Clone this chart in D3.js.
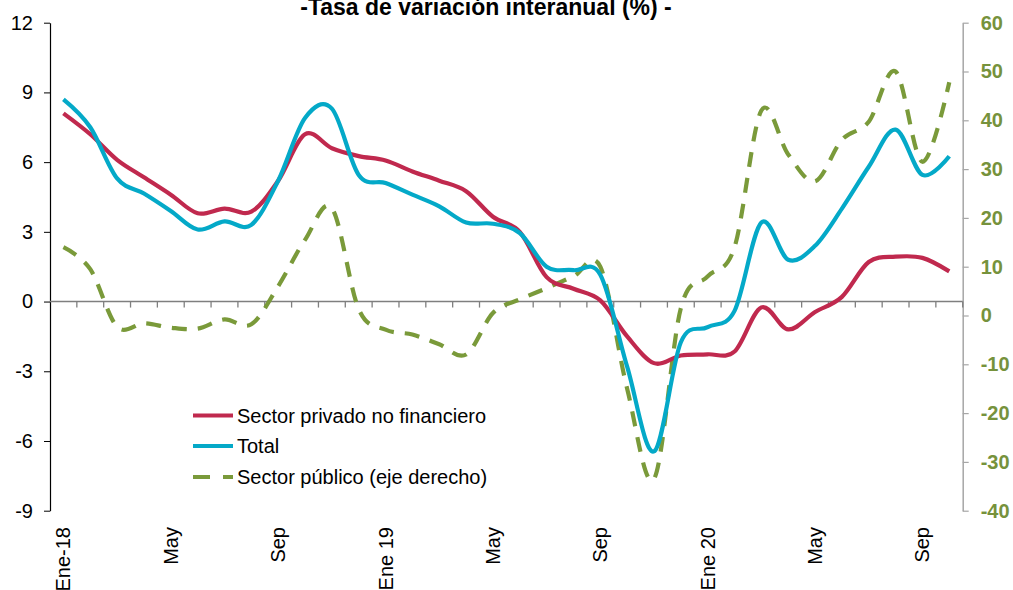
<!DOCTYPE html>
<html>
<head>
<meta charset="utf-8">
<script src="https://cdn.jsdelivr.net/npm/d3@7"></script>
<style>
  html, body { margin: 0; padding: 0; background: #fff; }
  svg { display: block; font-family: Arial, "Liberation Sans", sans-serif; }
</style>
</head>
<body>
<svg id="chart" width="1013" height="590"></svg>
<script>
// ---- data ----
const months = [
  "Ene-18","Feb-18","Mar-18","Abr-18","May-18","Jun-18","Jul-18","Ago-18","Sep-18","Oct-18","Nov-18","Dic-18",
  "Ene-19","Feb-19","Mar-19","Abr-19","May-19","Jun-19","Jul-19","Ago-19","Sep-19","Oct-19","Nov-19","Dic-19",
  "Ene-20","Feb-20","Mar-20","Abr-20","May-20","Jun-20","Jul-20","Ago-20","Sep-20","Oct-20"
];
const tickMonths = ["Ene-18","May-18","Sep-18","Ene-19","May-19","Sep-19","Ene-20","May-20","Sep-20"];
const tickLabels = ["Ene-18","May","Sep","Ene 19","May","Sep","Ene 20","May","Sep"];
const privado = [8.1, 7.2, 6.1, 5.35, 4.6, 3.8, 4.0, 3.87, 5.2, 7.2, 6.6, 6.26, 6.07,
  5.6, 5.2, 4.75, 3.65, 3.0, 1.05, 0.55, 0.05, -1.5, -2.65, -2.32, -2.27, -2.15,
  -0.25, -1.2, -0.45, 0.2, 1.7, 1.93, 1.88, 1.3];
const total = [8.7, 7.5, 5.3, 4.65, 3.9, 3.1, 3.45, 3.3, 5.2, 7.9, 8.3, 5.45, 5.1,
  4.6, 4.1, 3.4, 3.35, 2.95, 1.5, 1.35, 1.15, -2.8, -6.45, -1.75, -1.1, -0.4,
  3.4, 1.8, 2.4, 4.0, 5.8, 7.4, 5.45, 6.25];
const publico = [14, 9.5, -2.3, -1.6, -2.5, -2.7, -0.8, -1.8, 6, 15.5, 22, 1.3, -2.9,
  -3.9, -5.9, -8, 0.5, 3.3, 5.6, 8, 10, -15, -33.5, 1.5, 8, 14, 42, 33, 27.5, 36,
  39.7, 50, 31.5, 47.8];
const leftTicks = [-9, -6, -3, 0, 3, 6, 9, 12];
const rightTicks = [-40, -30, -20, -10, 0, 10, 20, 30, 40, 50, 60];
const title = "-Tasa de variación interanual (%) -";
const legendItems = ["Sector privado no financiero", "Total", "Sector público (eje derecho)"];

// ---- layout ----
const svg = d3.select("#chart");
const L = 50, R = 962.7, T = 22.7, B = 510.7;
const RED = "#C0294E", BLUE = "#04A9C8", GREEN = "#7A9A3A", GREEN_TXT = "#76923C";
const fmt = d => String(d); // plain hyphen-minus, as in the reference

const x = d3.scaleBand().domain(months).range([L, R]).paddingInner(0).paddingOuter(0);
const cx = m => x(m) + x.bandwidth() / 2;
const yL = d3.scaleLinear().domain([-9, 12]).range([B, T]);
const yR = d3.scaleLinear().domain([-40, 60]).range([B, T]);

// title
svg.append("text").attr("x", 486).attr("y", 15).attr("text-anchor", "middle")
  .attr("font-size", 23).attr("font-weight", "bold").attr("fill", "#000").text(title);

// left axis
const gL = svg.append("g").attr("transform", `translate(${L},0)`)
  .call(d3.axisLeft(yL).tickValues(leftTicks).tickFormat(fmt).tickSize(6).tickPadding(11).tickSizeOuter(0));
gL.select(".domain").attr("stroke", "#000").attr("stroke-width", 1.2);
gL.selectAll(".tick line").attr("stroke", "#000");
gL.selectAll(".tick text").attr("font-size", 20).attr("fill", "#000")
  .attr("font-family", "Arial, 'Liberation Sans', sans-serif");

// right axis
const gR = svg.append("g").attr("transform", `translate(${R},0)`)
  .call(d3.axisRight(yR).tickValues(rightTicks).tickFormat(fmt).tickSize(6).tickPadding(12).tickSizeOuter(0));
gR.select(".domain").attr("stroke", "#A6A6A6").attr("stroke-width", 1.5);
gR.selectAll(".tick line").attr("stroke", "#A6A6A6").attr("stroke-width", 1.2);
gR.selectAll(".tick text").attr("font-size", 20).attr("font-weight", "bold").attr("fill", GREEN_TXT)
  .attr("font-family", "Arial, 'Liberation Sans', sans-serif");

// category axis at zero
const y0 = yL(0);
const gX = svg.append("g");
gX.append("line").attr("x1", L).attr("x2", R).attr("y1", y0).attr("y2", y0)
  .attr("stroke", "#7F7F7F").attr("stroke-width", 1.5);
const bounds = months.map(m => x(m)).concat([R]);
gX.selectAll("line.tk").data(bounds.slice(1)).enter().append("line").attr("class", "tk")
  .attr("x1", d => d).attr("x2", d => d).attr("y1", y0).attr("y2", y0 + 6)
  .attr("stroke", "#7F7F7F").attr("stroke-width", 1.3);

// bottom labels
svg.append("g").selectAll("text").data(tickMonths).enter().append("text")
  .attr("transform", (d) => `translate(${cx(d)},527) rotate(-90)`)
  .attr("text-anchor", "end").attr("dy", "0.35em")
  .attr("font-size", 20).attr("fill", "#000")
  .text((d, i) => tickLabels[i]);

// lines
const curve = d3.curveCardinal.tension(0);
const lineL = d3.line().x((d, i) => cx(months[i])).y(d => yL(d)).curve(curve);
const lineR = d3.line().x((d, i) => cx(months[i])).y(d => yR(d)).curve(curve);

svg.append("path").datum(publico).attr("d", lineR).attr("fill", "none")
  .attr("stroke", GREEN).attr("stroke-width", 4.2).attr("stroke-dasharray", "15,11");
svg.append("path").datum(privado).attr("d", lineL).attr("fill", "none")
  .attr("stroke", RED).attr("stroke-width", 4.2).attr("stroke-linejoin", "round");
svg.append("path").datum(total).attr("d", lineL).attr("fill", "none")
  .attr("stroke", BLUE).attr("stroke-width", 4.2).attr("stroke-linejoin", "round");

// legend
const legColors = [RED, BLUE, GREEN];
const legY = [415.5, 446, 477];
const leg = svg.append("g");
legendItems.forEach((t, i) => {
  const ln = leg.append("line").attr("x1", 193).attr("x2", 233).attr("y1", legY[i]).attr("y2", legY[i])
    .attr("stroke", legColors[i]).attr("stroke-width", 4.2);
  if (i === 2) ln.attr("stroke-dasharray", "17,13");
  leg.append("text").attr("x", 237).attr("y", legY[i]).attr("dy", "0.35em")
    .attr("font-size", 20).attr("fill", "#000").text(t);
});
</script>
</body>
</html>
